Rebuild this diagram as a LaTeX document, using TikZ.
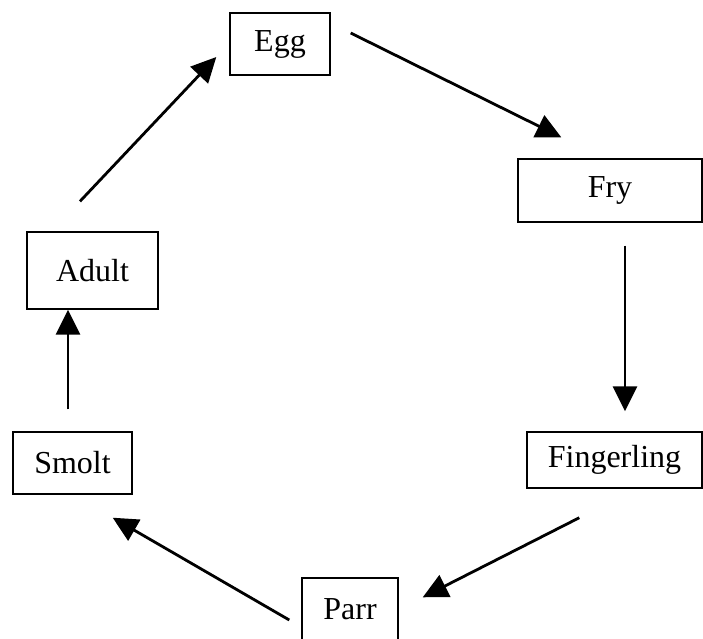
\documentclass[tikz,border=0pt]{standalone}
\usepackage{fontspec}
\setmainfont{Liberation Serif}
\usetikzlibrary{arrows.meta,calc}
\tikzset{
  stage/.style={draw, line width=1.4pt, inner sep=0pt, font=\fontsize{32}{38}\selectfont},
  cycle/.style={-{Triangle[length=25pt,width=24pt]}, line width=2.8pt}
}

\begin{document}
\begin{tikzpicture}[x=1pt,y=-1pt]
  \useasboundingbox (0,0) rectangle (703,638);

  \node [stage, minimum width=100pt, minimum height=62pt] (egg) at (280,44) {Egg};
  \node [stage, minimum width=184pt, minimum height=63pt] (fry) at (610,190.5) {Fry};
  \node [stage, minimum width=175pt, minimum height=56pt] (fing) at (614.5,460) {Fingerling};
  \node [stage, minimum width=96pt, minimum height=63pt] (parr) at (350,609.5) {Parr};
  \node [stage, minimum width=119pt, minimum height=62pt] (smolt) at (72.5,463) {Smolt};
  \node [stage, minimum width=131pt, minimum height=77pt] (adult) at (92.5,270.5) {Adult};

  \draw [cycle] ($(egg.east)+(20,-11)$) -- ($(fry.north west)+(44,-21)$);
  \draw [cycle] ($(fry.south)+(15,23)$) -- ($(fing.north)+(10.5,-20)$);
  \draw [cycle] ($(fing.south west)+(53,29)$) -- ($(parr.north east)+(24,20)$);
  \draw [cycle] ($(parr.west)+(-12,10.5)$) -- ($(smolt.south east)+(-20,23)$);
  \draw [cycle] ($(smolt.north)+(-4.5,-22)$) -- ($(adult.south)+(-24.5,0)$);
  \draw [cycle] ($(adult.north)+(-12.5,-30)$) -- ($(egg.west)+(-13,13)$);
\end{tikzpicture}
\end{document}
